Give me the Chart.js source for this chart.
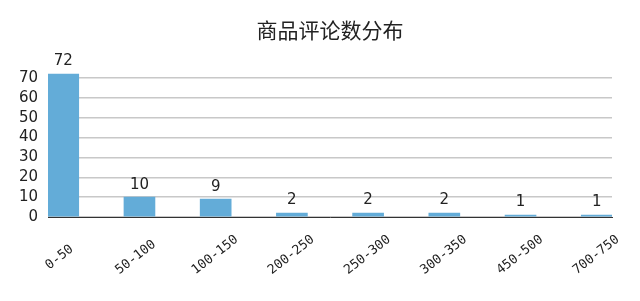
<!DOCTYPE html>
<html lang="zh">
<head>
<meta charset="UTF-8">
<title>商品评论数分布</title>
<script src="https://cdn.jsdelivr.net/npm/chart.js@4.4.1/dist/chart.umd.min.js"></script>
<style>
body { margin: 0; background: #fff; }
#wrap { width: 640px; height: 301px; }
</style>
</head>
<body>
<div id="wrap"><canvas id="chart"></canvas></div>
<script>
// review-count buckets and how many products fall in each
const buckets = ['0-50', '50-100', '100-150', '200-250', '250-300', '300-350', '450-500', '700-750'];
const counts = [72, 10, 9, 2, 2, 2, 1, 1];
const yTicks = [0, 10, 20, 30, 40, 50, 60, 70];

const barColor = '#63acd8';
const textColor = '#222222';
const maxLen = Math.max(...buckets.map(b => b.length));

// draw the count above each bar
const valueLabels = {
  id: 'valueLabels',
  afterDatasetsDraw(chart) {
    const ctx = chart.ctx;
    const meta = chart.getDatasetMeta(0);
    ctx.save();
    ctx.font = '15px "DejaVu Sans"';
    ctx.fillStyle = textColor;
    ctx.textAlign = 'center';
    ctx.textBaseline = 'bottom';
    meta.data.forEach((bar, i) => {
      ctx.fillText(String(counts[i]), bar.x, bar.y - 5);
    });
    ctx.restore();
  }
};

new Chart(document.getElementById('chart'), {
  type: 'bar',
  data: {
    datasets: [{
      data: counts.map((v, i) => ({ x: i, y: v })),
      backgroundColor: barColor,
      barThickness: 31
    }]
  },
  options: {
    responsive: true,
    maintainAspectRatio: false,
    animation: false,
    layout: { padding: { left: 0, right: 28, top: 0, bottom: 0 } },
    plugins: {
      legend: { display: false },
      tooltip: { enabled: false },
      title: {
        display: true,
        text: '商品评论数分布',
        fullSize: false,
        color: textColor,
        font: { family: '"Noto Sans CJK SC"', size: 21, weight: 'normal' },
        padding: { top: 17, bottom: 16 }
      }
    },
    scales: {
      x: {
        type: 'linear',
        offset: false,
        min: -0.2,
        max: 7.2,
        afterBuildTicks: s => { s.ticks = buckets.map((_, i) => ({ value: i })); },
        afterFit: s => { s.height = 84; },
        grid: { display: false },
        border: { display: true, color: '#333333', width: 1 },
        ticks: {
          // rotated labels are right-aligned; trailing spaces roughly centre the short ones
          callback: v => buckets[v] + ' '.repeat(Math.round((maxLen - buckets[v].length) / 2)),
          minRotation: 38,
          maxRotation: 38,
          labelOffset: 21,
          padding: 7,
          color: textColor,
          font: { family: '"DejaVu Sans Mono"', size: 13 }
        }
      },
      y: {
        min: 0,
        max: 80,
        afterBuildTicks: s => { s.ticks = yTicks.map(v => ({ value: v })); },
        afterFit: s => { s.width = 48; },
        grid: { color: '#c8c8c8', lineWidth: 1.5, drawTicks: false },
        border: { display: false },
        ticks: {
          padding: 10,
          color: textColor,
          font: { family: '"DejaVu Sans"', size: 15 }
        }
      }
    }
  },
  plugins: [valueLabels]
});
</script>
</body>
</html>
